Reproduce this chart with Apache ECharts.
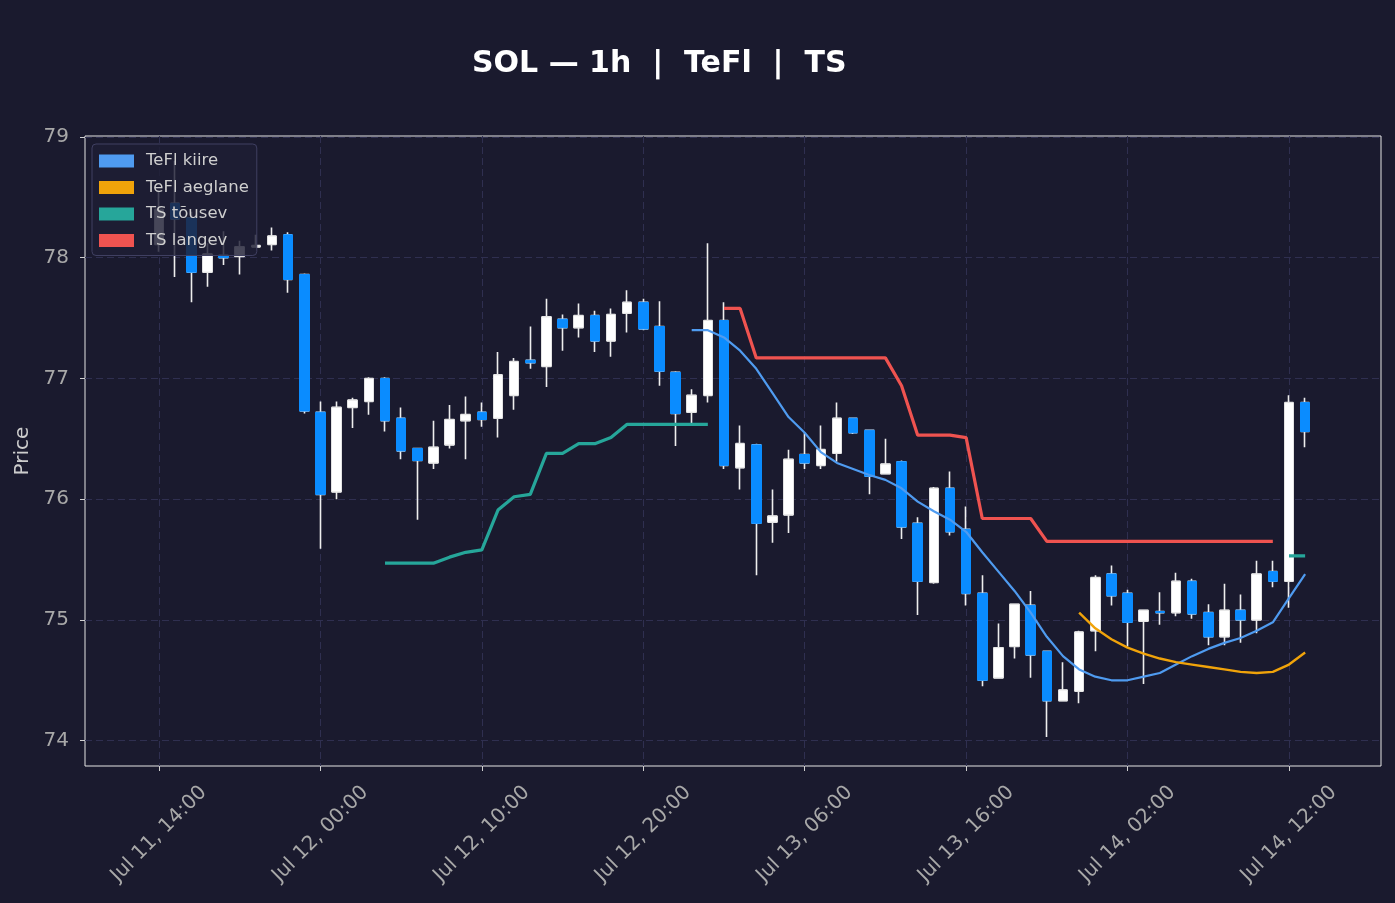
<!DOCTYPE html>
<html>
<head>
<meta charset="utf-8">
<title>SOL 1h TeFl TS</title>
<script src="https://cdn.jsdelivr.net/npm/echarts@6/dist/echarts.min.js"></script>
<style>
    html, body { margin: 0; padding: 0; background: #1a1a2e; }
    #main { width: 1395px; height: 903px; }
</style>
</head>
<body>
<div id="main"></div>
<script>
// hourly candles, Jul 11 14:00 -> Jul 14 13:00
const times = [
    '2025-07-11 14:00','2025-07-11 15:00','2025-07-11 16:00','2025-07-11 17:00','2025-07-11 18:00','2025-07-11 19:00',
    '2025-07-11 20:00','2025-07-11 21:00','2025-07-11 22:00','2025-07-11 23:00',
    '2025-07-12 00:00','2025-07-12 01:00','2025-07-12 02:00','2025-07-12 03:00','2025-07-12 04:00','2025-07-12 05:00',
    '2025-07-12 06:00','2025-07-12 07:00','2025-07-12 08:00','2025-07-12 09:00','2025-07-12 10:00','2025-07-12 11:00',
    '2025-07-12 12:00','2025-07-12 13:00','2025-07-12 14:00','2025-07-12 15:00','2025-07-12 16:00','2025-07-12 17:00',
    '2025-07-12 18:00','2025-07-12 19:00','2025-07-12 20:00','2025-07-12 21:00','2025-07-12 22:00','2025-07-12 23:00',
    '2025-07-13 00:00','2025-07-13 01:00','2025-07-13 02:00','2025-07-13 03:00','2025-07-13 04:00','2025-07-13 05:00',
    '2025-07-13 06:00','2025-07-13 07:00','2025-07-13 08:00','2025-07-13 09:00','2025-07-13 10:00','2025-07-13 11:00',
    '2025-07-13 12:00','2025-07-13 13:00','2025-07-13 14:00','2025-07-13 15:00','2025-07-13 16:00','2025-07-13 17:00',
    '2025-07-13 18:00','2025-07-13 19:00','2025-07-13 20:00','2025-07-13 21:00','2025-07-13 22:00','2025-07-13 23:00',
    '2025-07-14 00:00','2025-07-14 01:00','2025-07-14 02:00','2025-07-14 03:00','2025-07-14 04:00','2025-07-14 05:00',
    '2025-07-14 06:00','2025-07-14 07:00','2025-07-14 08:00','2025-07-14 09:00','2025-07-14 10:00','2025-07-14 11:00',
    '2025-07-14 12:00','2025-07-14 13:00'
];

const opens = [
    78.11, 78.45, 78.33, 77.88, 78.02, 78.01, 78.09, 78.11, 78.19, 77.86,
    76.72, 76.06, 76.76, 76.81, 77.00, 76.67, 76.42, 76.30, 76.45, 76.65,
    76.72, 76.67, 76.86, 77.15, 77.10, 77.49, 77.42, 77.52, 77.31, 77.54,
    77.63, 77.43, 77.05, 76.72, 76.86, 77.48, 76.26, 76.45, 75.81, 75.87,
    76.37, 76.28, 76.38, 76.67, 76.57, 76.21, 76.31, 75.80, 75.31, 76.09,
    75.75, 75.22, 74.52, 74.78, 75.12, 74.74, 74.33, 74.41, 74.91, 75.38,
    75.22, 74.99, 75.07, 75.06, 75.32, 75.06, 74.86, 75.08, 75.00, 75.40,
    75.32, 76.80
];
const closes = [
    78.40, 78.32, 77.88, 78.03, 78.00, 78.09, 78.10, 78.18, 77.82, 76.73,
    76.04, 76.76, 76.82, 77.00, 76.65, 76.40, 76.32, 76.43, 76.66, 76.70,
    76.66, 77.03, 77.14, 77.13, 77.51, 77.42, 77.52, 77.31, 77.53, 77.63,
    77.41, 77.06, 76.71, 76.86, 77.48, 76.28, 76.46, 75.80, 75.86, 76.33,
    76.30, 76.41, 76.67, 76.55, 76.19, 76.29, 75.77, 75.32, 76.09, 75.73,
    75.22, 74.50, 74.77, 75.13, 74.71, 74.33, 74.42, 74.90, 75.35, 75.20,
    74.98, 75.08, 75.06, 75.32, 75.05, 74.86, 75.08, 75.00, 75.38, 75.32,
    76.80, 76.56
];
const lows = [
    78.05, 77.84, 77.63, 77.76, 77.94, 77.86, 78.09, 78.06, 77.71, 76.71,
    75.59, 76.00, 76.59, 76.70, 76.56, 76.33, 75.83, 76.25, 76.42, 76.33,
    76.60, 76.51, 76.74, 77.08, 76.93, 77.23, 77.34, 77.22, 77.18, 77.38,
    77.40, 76.94, 76.44, 76.63, 76.80, 76.25, 76.08, 75.37, 75.64, 75.72,
    76.25, 76.25, 76.31, 76.54, 76.04, 76.21, 75.67, 75.04, 75.30, 75.70,
    75.12, 74.45, 74.52, 74.68, 74.52, 74.03, 74.33, 74.31, 74.74, 75.12,
    74.78, 74.47, 74.96, 75.03, 75.01, 74.79, 74.79, 74.81, 74.89, 75.27,
    75.10, 76.43
];
const highs = [
    78.55, 78.80, 78.38, 78.12, 78.22, 78.14, 78.19, 78.25, 78.21, 77.87,
    76.81, 76.81, 76.84, 77.01, 77.01, 76.76, 76.42, 76.65, 76.78, 76.85,
    76.80, 77.22, 77.17, 77.43, 77.66, 77.53, 77.62, 77.56, 77.58, 77.73,
    77.66, 77.64, 77.06, 76.91, 78.12, 77.63, 76.61, 76.46, 76.08, 76.41,
    76.55, 76.61, 76.80, 76.67, 76.57, 76.50, 76.32, 75.85, 76.10, 76.23,
    75.94, 75.37, 74.97, 75.13, 75.24, 74.74, 74.65, 74.91, 75.37, 75.45,
    75.25, 75.08, 75.23, 75.39, 75.34, 75.13, 75.30, 75.21, 75.49, 75.49,
    76.86, 76.84
];

// indicator lines, each starts at the given candle index
const teflFastStart = 33;
const teflFast = [
    77.40, 77.40, 77.34, 77.23, 77.08, 76.88, 76.68, 76.55, 76.39, 76.30,
    76.25, 76.20, 76.16, 76.09, 75.98, 75.90, 75.83, 75.73, 75.56, 75.40,
    75.24, 75.06, 74.86, 74.70, 74.59, 74.53, 74.50, 74.50, 74.53, 74.56,
    74.63, 74.70, 74.76, 74.81, 74.85, 74.91, 74.98, 75.18, 75.38
];
const teflSlowStart = 57;
const teflSlow = [
    75.06, 74.93, 74.84, 74.77, 74.72, 74.68, 74.65, 74.63, 74.61, 74.59,
    74.57, 74.56, 74.57, 74.63, 74.73
];
const tsUpStart = 14;
const tsUp = [
    75.47, 75.47, 75.47, 75.47, 75.52, 75.56, 75.58, 75.91, 76.02, 76.04,
    76.38, 76.38, 76.46, 76.46, 76.51, 76.62, 76.62, 76.62, 76.62, 76.62,
    76.62
];
const tsUp2Start = 70;
const tsUp2 = [75.53, 75.53];
const tsDownStart = 35;
const tsDown = [
    77.58, 77.58, 77.17, 77.17, 77.17, 77.17, 77.17, 77.17, 77.17, 77.17,
    77.17, 76.94, 76.53, 76.53, 76.53, 76.51, 75.84, 75.84, 75.84, 75.84,
    75.65, 75.65, 75.65, 75.65, 75.65, 75.65, 75.65, 75.65, 75.65, 75.65,
    75.65, 75.65, 75.65, 75.65, 75.65
];

const xTicks = ['2025-07-11 14:00','2025-07-12 00:00','2025-07-12 10:00','2025-07-12 20:00',
    '2025-07-13 06:00','2025-07-13 16:00','2025-07-14 02:00','2025-07-14 12:00'];
const xTickLabels = ['Jul 11, 14:00','Jul 12, 00:00','Jul 12, 10:00','Jul 12, 20:00',
    'Jul 13, 06:00','Jul 13, 16:00','Jul 14, 02:00','Jul 14, 12:00'];
const yTicks = [74, 75, 76, 77, 78, 79];

const FONT = 'DejaVu Sans';
const GRID_LINE = { color: '#2f2f50', type: [7, 4], width: 1 };

// x values are plain millisecond timestamps on a value axis
function ts(s) {
    return +echarts.number.parseDate(s);
}
const xTickVals = xTicks.map(ts);

function segment(start, values) {
    return values.map(function (v, i) { return [ts(times[start + i]), v]; });
}

// full candles (white wicks) and bodies only drawn on top
const wickData = times.map(function (t, i) {
    return [ts(t), opens[i], closes[i], lows[i], highs[i]];
});
const bodyData = times.map(function (t, i) {
    return [ts(t), opens[i], closes[i], Math.min(opens[i], closes[i]), Math.max(opens[i], closes[i])];
});

const tsUpData = segment(tsUpStart, tsUp)
    .concat([[ts(times[tsUpStart + tsUp.length]), '-']])
    .concat(segment(tsUp2Start, tsUp2));

var myChart = echarts.init(document.getElementById('main'));
var option = {
    backgroundColor: '#1a1a2e',
    animation: false,
    title: {
        text: 'SOL \u2014 1h  |  TeFl  |  TS',
        left: 467,
        top: 44,
        textStyle: { color: '#ffffff', fontSize: 30, fontWeight: 'bold', fontFamily: FONT }
    },
    legend: {
        data: ['TeFl kiire', 'TeFl aeglane', 'TS t\u00f5usev', 'TS langev'],
        orient: 'vertical',
        left: 92,
        top: 144,
        padding: [8, 8, 6, 7],
        itemWidth: 35,
        itemHeight: 13,
        itemGap: 8.5,
        icon: 'rect',
        backgroundColor: 'rgba(30,30,52,0.82)',
        borderColor: '#404062',
        borderWidth: 1,
        borderRadius: 4,
        textStyle: { color: '#cfcfcf', fontSize: 16.5, fontFamily: FONT, lineHeight: 18, padding: [0, 0, 0, 7] }
    },
    grid: {
        left: 85, right: 14, top: 136, bottom: 137,
        show: true,
        borderColor: '#e4e4e4',
        borderWidth: 1
    },
    xAxis: {
        type: 'value',
        min: ts('2025-07-11 09:25'),
        max: ts('2025-07-14 17:42'),
        axisLine: { show: false },
        axisTick: { show: true, length: 5, customValues: xTickVals, lineStyle: { color: '#d0d0d0' } },
        axisLabel: {
            customValues: xTickVals,
            formatter: function (v) {
                var i = xTickVals.indexOf(v);
                return i >= 0 ? xTickLabels[i] : '';
            },
            rotate: 45,
            align: 'center',
            verticalAlign: 'middle',
            margin: 68,
            color: '#a8a8a8',
            fontSize: 20,
            fontFamily: FONT
        },
        splitLine: { show: true, lineStyle: GRID_LINE }
    },
    yAxis: {
        type: 'value',
        min: 73.79,
        max: 79.008,
        name: 'Price',
        nameLocation: 'middle',
        nameGap: 47,
        nameTextStyle: { color: '#cccccc', fontSize: 20, fontFamily: FONT },
        axisLine: { show: false },
        axisTick: { show: true, length: 5, customValues: yTicks, lineStyle: { color: '#d0d0d0' } },
        axisLabel: { customValues: yTicks, margin: 16, color: '#a8a8a8', fontSize: 20, fontFamily: FONT },
        splitLine: { show: true, lineStyle: GRID_LINE }
    },
    series: [
        {
            name: 'wicks',
            type: 'candlestick',
            data: wickData,
            encode: { x: 0, y: [1, 2, 3, 4] },
            barWidth: 8,
            itemStyle: {
                color: '#ffffff', color0: '#ffffff',
                borderColor: '#eeeeee', borderColor0: '#eeeeee',
                borderWidth: 1.6
            }
        },
        {
            name: 'bodies',
            type: 'candlestick',
            data: bodyData,
            encode: { x: 0, y: [1, 2, 3, 4] },
            barWidth: 10,
            itemStyle: {
                color: '#ffffff', color0: '#0a8cff',
                borderColor: '#e2e2e2', borderColor0: '#0a8cff',
                borderWidth: 1
            }
        },
        {
            name: 'TeFl kiire',
            type: 'line',
            color: '#4f9bf0',
            data: segment(teflFastStart, teflFast),
            showSymbol: false,
            symbol: 'none',
            lineStyle: { width: 2.2 }
        },
        {
            name: 'TeFl aeglane',
            type: 'line',
            color: '#f0a30a',
            data: segment(teflSlowStart, teflSlow),
            showSymbol: false,
            symbol: 'none',
            lineStyle: { width: 2.4 }
        },
        {
            name: 'TS t\u00f5usev',
            type: 'line',
            color: '#26a69a',
            data: tsUpData,
            showSymbol: false,
            symbol: 'none',
            lineStyle: { width: 3.2 }
        },
        {
            name: 'TS langev',
            type: 'line',
            color: '#ef5350',
            data: segment(tsDownStart, tsDown),
            showSymbol: false,
            symbol: 'none',
            lineStyle: { width: 3.2 }
        }
    ]
};
myChart.setOption(option);
</script>
</body>
</html>
